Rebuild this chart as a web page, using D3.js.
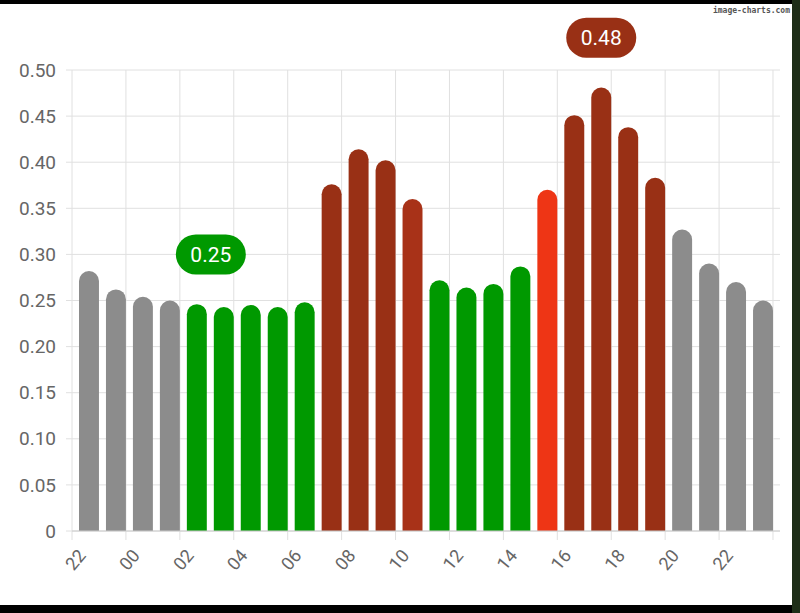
<!DOCTYPE html>
<html><head><meta charset="utf-8">
<script src="https://cdn.jsdelivr.net/npm/d3@7"></script>
<style>body{margin:0;background:#000}</style>
</head><body>
<script>
const hours = ['22','23','00','01','02','03','04','05','06','07','08','09','10','11','12','13','14','15','16','17','18','19','20','21','22b','23b'];
const values = [0.282,0.262,0.254,0.250,0.246,0.243,0.245,0.243,0.248,0.376,0.414,0.402,0.360,0.272,0.264,0.268,0.287,0.370,0.451,0.481,0.438,0.383,0.327,0.290,0.270,0.250];
const colors = ['#8c8c8c','#8c8c8c','#8c8c8c','#8c8c8c','#009900','#009900','#009900','#009900','#009900','#993015','#993015','#993015','#a83218','#009900','#009900','#009900','#009900','#ee3515','#993015','#993015','#993015','#993015','#8c8c8c','#8c8c8c','#8c8c8c','#8c8c8c'];
const yTicks = [0,0.05,0.10,0.15,0.20,0.25,0.30,0.35,0.40,0.45,0.50];
const notes = [{i:4, text:'0.25', color:'#009900', y:0.30}, {i:19, text:'0.48', color:'#993015', y:0.535}];

const svg = d3.select('body').append('svg').attr('width',800).attr('height',613);
svg.append('rect').attr('width',792).attr('height',601).attr('y',4).attr('fill','#fff');
svg.append('rect').attr('x',792).attr('width',8).attr('height',613).attr('fill','#1e2e18');
svg.append('text').attr('x',790).attr('y',13).attr('text-anchor','end').attr('font-family','DejaVu Sans Mono').attr('font-size',8).attr('font-weight','bold').attr('fill','#555').text('image-charts.com');

const x = d3.scaleBand().domain(hours).range([72,780]).padding(0.26);
const y = d3.scaleLinear().domain([0,0.5]).range([531,70]);
const font = 'Roboto, sans-serif';

const step = x.step();
const grid = svg.append('g').attr('stroke','#e0e0e0');
grid.selectAll('line.h').data(yTicks).join('line').attr('x1',66).attr('x2',780).attr('y1',d=>y(d)).attr('y2',d=>y(d));
const tickIdx = d3.range(0,27,2);
grid.selectAll('line.v').data(tickIdx).join('line').attr('x1',i=>72+i*step).attr('x2',i=>72+i*step).attr('y1',70).attr('y2',540);

svg.append('g').selectAll('text').data(yTicks).join('text')
  .attr('x',56).attr('y',d=>y(d)).attr('dy','0.35em').attr('text-anchor','end')
  .attr('font-family',font).attr('font-size',19).attr('fill','#666')
  .text(d=>d===0?'0':d.toFixed(2));

svg.append('g').selectAll('text').data(tickIdx.slice(0,13)).join('text')
  .attr('transform',i=>`translate(${72+i*step+10},${552}) rotate(-50)`)
  .attr('text-anchor','end').attr('dy','0.35em')
  .attr('font-family',font).attr('font-size',18).attr('fill','#666')
  .text(i=>hours[i].replace('b',''));

const w = x.bandwidth(), r = w/2;
svg.append('g').selectAll('path').data(values).join('path')
  .attr('fill',(d,i)=>colors[i])
  .attr('d',(d,i)=>{
    const x0=x(hours[i]), top=y(d), b=y(0);
    return `M${x0},${b}V${top+r}A${r},${r} 0 0 1 ${x0+w},${top+r}V${b}Z`;
  });

svg.append('line').attr('x1',72).attr('x2',780).attr('y1',531).attr('y2',531).attr('stroke','#ccc');

const ng = svg.append('g').selectAll('g').data(notes).join('g')
  .attr('transform',d=>`translate(${x(hours[d.i])+w/2+ (d.i===4?14:0)},${y(d.y)})`);
ng.append('rect').attr('x',-35).attr('y',-20).attr('width',70).attr('height',40).attr('rx',20).attr('fill',d=>d.color);
ng.append('text').attr('text-anchor','middle').attr('dy','0.35em').attr('font-family',font).attr('font-size',21).attr('fill','#fff').text(d=>d.text);
</script>
</body></html>
